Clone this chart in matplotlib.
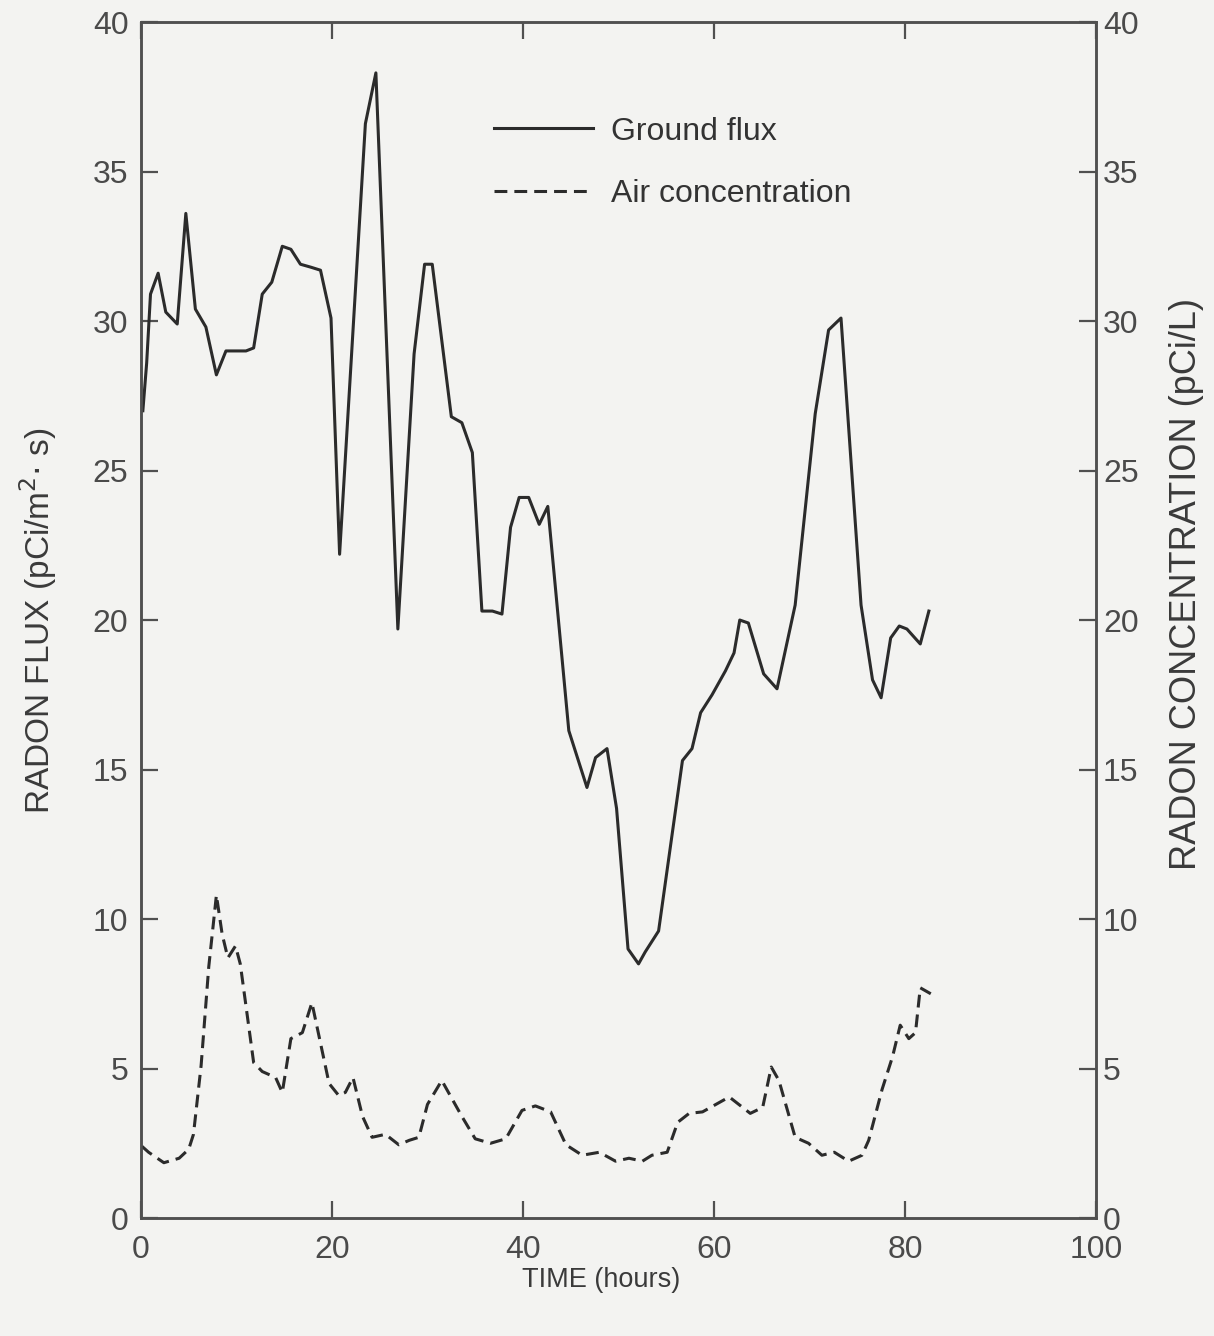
import numpy as np
import matplotlib
matplotlib.use("Agg")
from matplotlib import pyplot as plt

# ground flux readings (pCi/m^2 s) against time in hours
flux_hours = [0.2, 0.6, 1.0, 1.8, 2.6, 3.8, 4.7, 5.7, 6.8, 7.9, 8.9, 11.0, 11.8, 12.7,
              13.7, 14.8, 15.7, 16.7, 17.8, 18.8, 19.9, 20.8, 23.5, 24.6, 26.9, 28.6,
              29.7, 30.5, 32.5, 33.6, 34.7, 35.7, 36.8, 37.8, 38.7, 39.6, 40.6, 41.7,
              42.6, 44.8, 46.7, 47.6, 48.8, 49.8, 51.0, 52.1, 52.8, 54.2, 56.7, 57.7,
              58.6, 59.8, 61.2, 62.1, 62.7, 63.6, 65.2, 66.6, 68.5, 70.6, 72.0, 73.3,
              75.4, 76.6, 77.5, 78.5, 79.4, 80.2, 81.6, 82.5]
flux = [27.0, 28.6, 30.9, 31.6, 30.3, 29.9, 33.6, 30.4, 29.8, 28.2, 29.0, 29.0, 29.1, 30.9,
        31.3, 32.5, 32.4, 31.9, 31.8, 31.7, 30.1, 22.2, 36.6, 38.3, 19.7, 28.9,
        31.9, 31.9, 26.8, 26.6, 25.6, 20.3, 20.3, 20.2, 23.1, 24.1, 24.1, 23.2,
        23.8, 16.3, 14.4, 15.4, 15.7, 13.7, 9.0, 8.5, 8.9, 9.6, 15.3, 15.7,
        16.9, 17.5, 18.3, 18.9, 20.0, 19.9, 18.2, 17.7, 20.5, 26.9, 29.7, 30.1,
        20.5, 18.0, 17.4, 19.4, 19.8, 19.7, 19.2, 20.3]

# air concentration (pCi/L)
air_hours = [0.1, 0.8, 2.4, 4.0, 5.0, 5.5, 6.3, 7.1, 7.9, 8.5, 9.1, 9.9, 10.4, 11.8,
             12.7, 14.1, 14.8, 15.7, 16.9, 17.9, 19.7, 20.7, 21.4, 22.2, 23.2, 24.2,
             25.6, 27.0, 28.1, 29.1, 30.0, 31.5, 33.6, 35.0, 36.6, 38.2, 39.9, 41.3,
             42.9, 44.5, 46.2, 48.0, 49.7, 51.1, 52.5, 53.5, 55.1, 56.2, 57.4, 58.8,
             60.2, 61.6, 62.6, 63.8, 65.1, 66.0, 66.8, 68.5, 69.9, 71.3, 72.6, 74.1,
             75.5, 76.2, 77.6, 78.7, 79.5, 80.4, 81.1, 81.6, 82.7]
air = [2.4, 2.2, 1.85, 2.0, 2.3, 2.8, 5.1, 8.4, 10.8, 9.5, 8.7, 9.1, 8.5, 5.2,
       4.9, 4.7, 4.2, 6.0, 6.2, 7.2, 4.5, 4.1, 4.2, 4.7, 3.4, 2.7,
       2.8, 2.45, 2.6, 2.7, 3.8, 4.6, 3.4, 2.65, 2.5, 2.65, 3.6, 3.75,
       3.55, 2.45, 2.1, 2.2, 1.9, 2.0, 1.9, 2.1, 2.2, 3.2, 3.5, 3.55,
       3.8, 4.05, 3.8, 3.5, 3.7, 5.05, 4.6, 2.7, 2.5, 2.1, 2.2, 1.9,
       2.1, 2.6, 4.3, 5.4, 6.45, 6.0, 6.2, 7.7, 7.5]

xticks = [0, 20, 40, 60, 80, 100]
yticks = [0, 5, 10, 15, 20, 25, 30, 35, 40]

bg = '#f3f3f1'
ink = '#2b2b2b'
grey = '#505050'
font = ['Liberation Sans', 'DejaVu Sans']

plt.rcParams['font.family'] = font
fig = plt.figure(figsize=(12.14, 13.36), dpi=100, facecolor=bg)
ax = fig.add_axes([0.1161, 0.0883, 0.7867, 0.8952], facecolor=bg)
ax2 = ax.twinx()

l1, = ax.plot(flux_hours, flux, '-', color=ink, linewidth=2.2, label='Ground flux')
l2, = ax2.plot(air_hours, air, color=ink, linewidth=2.2, linestyle=(0, (4.2, 2.3)),
               label='Air concentration')

ax.set_xlim(0, 100)
ax.set_ylim(0, 40)
ax2.set_ylim(0, 40)
ax.set_xticks(xticks)
ax.set_yticks(yticks)
ax2.set_yticks(yticks)

for a in (ax, ax2):
    for s in a.spines.values():
        s.set_color(grey)
        s.set_linewidth(1.8)

ax.tick_params(axis='both', direction='in', length=12, width=1.6, color=grey,
               labelsize=23, labelcolor='#4a4a4a', top=True, right=False)
ax.tick_params(axis='x', pad=12)
ax.tick_params(axis='y', pad=9)
ax2.tick_params(axis='y', direction='in', length=12, width=1.6, color=grey,
                labelsize=23, labelcolor='#4a4a4a', pad=5)

fig.text(0.031, 0.535, 'RADON FLUX (pCi/m$^2$$\\cdot$ s)', rotation=90, ha='center',
         va='center', fontsize=24, color='#3a3a3a')
fig.text(0.977, 0.563, 'RADON CONCENTRATION (pCi/L)', rotation=90, ha='center',
         va='center', fontsize=26, color='#3a3a3a')
fig.text(0.495, 0.042, 'TIME (hours)', ha='center', va='center', fontsize=19.5,
         color='#3a3a3a')

leg = ax2.legend(handles=[l1, l2], loc='upper left', bbox_to_anchor=(0.3696, 0.921),
                 frameon=False, fontsize=23, handlelength=3.1, handletextpad=0.55,
                 labelspacing=1.03, borderpad=0, borderaxespad=0)
for t in leg.get_texts():
    t.set_color('#333333')

plt.savefig('out.png', dpi=100, facecolor=bg)
